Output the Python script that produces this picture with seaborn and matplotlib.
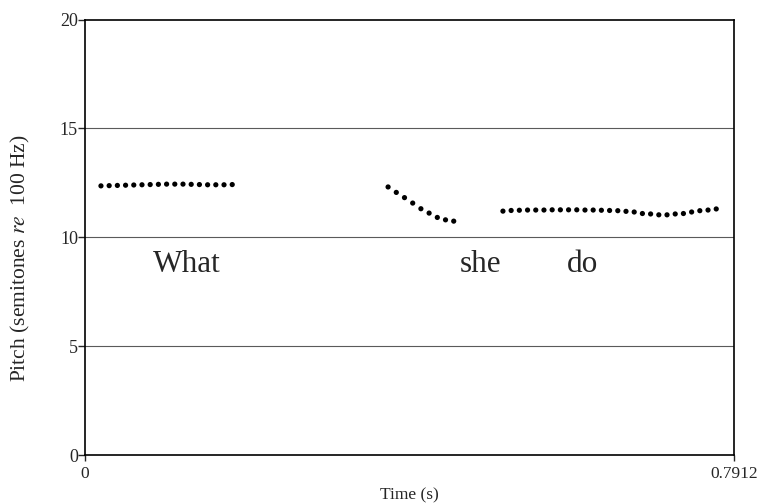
import numpy as np
import pandas as pd
import seaborn as sns
import matplotlib.pyplot as plt

# pitch track (semitones re 100 Hz), three voiced stretches
t_what = [0.0195, 0.0295, 0.0395, 0.0495, 0.0595, 0.0695, 0.0795, 0.0895, 0.0995,
          0.1095, 0.1195, 0.1295, 0.1395, 0.1495, 0.1595, 0.1695, 0.1795]
p_what = [12.36, 12.37, 12.38, 12.39, 12.40, 12.41, 12.42, 12.43, 12.44,
          12.44, 12.44, 12.43, 12.42, 12.41, 12.41, 12.41, 12.42]

t_she = [0.3695, 0.3795, 0.3895, 0.3995, 0.4095, 0.4195, 0.4295, 0.4395, 0.4495]
p_she = [12.31, 12.06, 11.82, 11.57, 11.31, 11.11, 10.91, 10.80, 10.74]

t_do = [0.5095, 0.5195, 0.5295, 0.5395, 0.5495, 0.5595, 0.5695, 0.5795, 0.5895,
        0.5995, 0.6095, 0.6195, 0.6295, 0.6395, 0.6495, 0.6595, 0.6695, 0.6795,
        0.6895, 0.6995, 0.7095, 0.7195, 0.7295, 0.7395, 0.7495, 0.7595, 0.7695]
p_do = [11.20, 11.23, 11.24, 11.25, 11.25, 11.25, 11.26, 11.26, 11.26,
        11.26, 11.25, 11.25, 11.24, 11.23, 11.22, 11.19, 11.16, 11.09,
        11.07, 11.03, 11.03, 11.07, 11.09, 11.16, 11.22, 11.25, 11.30]

# word labels: (text, time, pitch)
words = ["What", "she", "do"]
word_t = [0.083, 0.457, 0.587]
word_p = [8.4, 8.4, 8.4]

x_max = 0.7912
y_ticks = [0, 5, 10, 15, 20]

df = pd.concat([
    pd.DataFrame({"time": t_what, "pitch": p_what, "seg": "what"}),
    pd.DataFrame({"time": t_she, "pitch": p_she, "seg": "she"}),
    pd.DataFrame({"time": t_do, "pitch": p_do, "seg": "do"}),
])

sns.set_style("white")
plt.rcParams['font.family'] = ['Liberation Serif', 'DejaVu Serif']
plt.rcParams['mathtext.fontset'] = 'stix'

fig = plt.figure(figsize=(7.62, 5.04), dpi=100)
ax = fig.add_axes([0.1115, 0.0972, 0.8518, 0.8641])

for y in [5, 10, 15]:
    ax.axhline(y, color="#5a5a5a", lw=0.8, zorder=0)

sns.scatterplot(data=df, x="time", y="pitch", color="black", s=14,
                edgecolor="none", legend=False, ax=ax)

for w, tt, pp in zip(words, word_t, word_p):
    ax.text(tt, pp, w, fontsize=22.5, ha="left", va="baseline")

ax.set_xlim(0, x_max)
ax.set_ylim(0, 20)
ax.set_xticks([0, x_max])
ax.set_xticklabels(["0", "0.7912"], fontsize=12.5)
ax.set_yticks(y_ticks)
ax.set_yticklabels([str(v) for v in y_ticks], fontsize=13)
ax.tick_params(axis="y", length=5, width=1, pad=0, direction="out", left=True)
ax.tick_params(axis="x", length=4, width=1, pad=4, direction="out", bottom=True)

for sp in ax.spines.values():
    sp.set_color("black")
    sp.set_linewidth(1.2)

ax.set_xlabel("Time (s)", fontsize=12.5, labelpad=4)
ax.set_ylabel(r"Pitch (semitones $\it{re}$  100 Hz)", fontsize=15.5, va="center")
ax.yaxis.set_label_coords(-0.100, 0.451)

fig.savefig("out.png", dpi=100)
